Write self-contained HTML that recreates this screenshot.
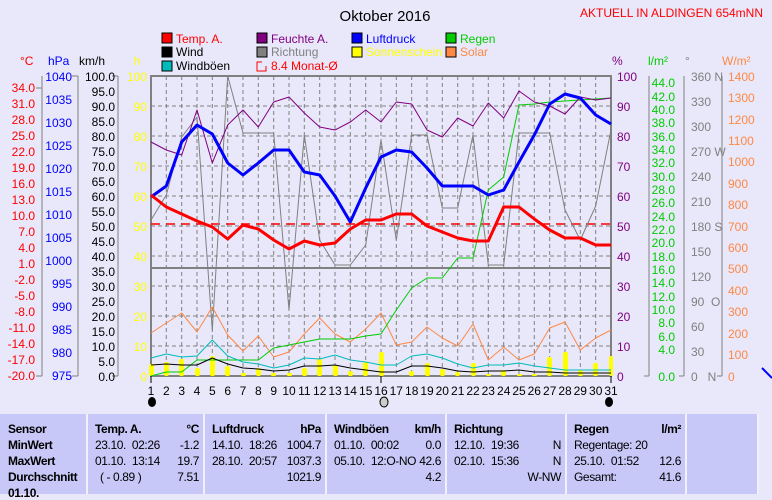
<!DOCTYPE html>
<html><head><meta charset="utf-8"><style>
body{margin:0;background:#e8e8fa;width:772px;height:490px;overflow:hidden;font-family:"Liberation Sans",sans-serif}
svg{position:absolute;left:0;top:0}
.t{position:absolute;top:414px;height:80px;background:#c8c8f8;font-size:12px;letter-spacing:-0.4px;border-right:2px solid #f0f0ff}
.t div{position:absolute;white-space:nowrap}
.b{font-weight:bold}
</style></head><body>
<svg width="772" height="414" font-family="Liberation Sans, sans-serif" font-size="12">
<text x="385" y="21" font-size="15" text-anchor="middle">Oktober 2016</text>
<text x="763" y="17" font-size="12" fill="#f00" text-anchor="end">AKTUELL IN ALDINGEN 654mNN</text>
<g font-size="12">
<rect x="162" y="33" width="10" height="10" fill="#f00" stroke="#000"/><text x="176" y="43" fill="#f00">Temp. A.</text>
<rect x="162" y="47" width="10" height="10" fill="#000" stroke="#000"/><text x="176" y="56">Wind</text>
<rect x="162" y="61" width="10" height="10" fill="#0bb" stroke="#000"/><text x="176" y="70">Windböen</text>
<rect x="257" y="33" width="10" height="10" fill="#800080" stroke="#000"/><text x="271" y="43" fill="#800080">Feuchte A.</text>
<rect x="257" y="47" width="10" height="10" fill="#808080" stroke="#000"/><text x="271" y="56" fill="#808080">Richtung</text>
<path d="M262 62h-5v9h9v-5" fill="none" stroke="#f00"/><text x="271" y="70" fill="#f00">8.4 Monat-Ø</text>
<rect x="352" y="33" width="10" height="10" fill="#00f" stroke="#000"/><text x="366" y="43" fill="#00f">Luftdruck</text>
<rect x="352" y="47" width="10" height="10" fill="#ff0" stroke="#000"/><text x="366" y="56" fill="#ff0">Sonnenschein</text>
<rect x="446" y="33" width="10" height="10" fill="#0c0" stroke="#000"/><text x="460" y="43" fill="#0c0">Regen</text>
<rect x="446" y="47" width="10" height="10" fill="#f84" stroke="#000"/><text x="460" y="56" fill="#f84">Solar</text>
</g>
<text x="20" y="65" fill="#f00">°C</text><text x="48" y="65" fill="#00f">hPa</text><text x="79" y="65">km/h</text><text x="134" y="65" fill="#ff0">h</text>
<text x="612" y="65" fill="#800080">%</text><text x="648" y="65" fill="#0c0">l/m²</text><text x="685" y="65" fill="#808080">°</text><text x="722" y="65" fill="#f84">W/m²</text>
<g stroke="#808080" stroke-dasharray="4,3" stroke-width="1">
<path d="M151 106H611M151 136H611M151 166H611M151 196H611M151 226H611M151 256H611M151 286H611M151 316H611M151 346H611"/>
<path d="M166.3 76V376M181.7 76V376M197 76V376M212.3 76V376M227.7 76V376M243 76V376M258.3 76V376M273.7 76V376M289 76V376M304.3 76V376M319.7 76V376M335 76V376M350.3 76V376M365.7 76V376M381 76V376M396.3 76V376M411.7 76V376M427 76V376M442.3 76V376M457.7 76V376M473 76V376M488.3 76V376M503.7 76V376M519 76V376M534.3 76V376M549.7 76V376M565 76V376M580.3 76V376M595.7 76V376"/>
</g>
<rect x="151" y="76" width="460" height="300" fill="none" stroke="#808080" stroke-width="2"/>
<line x1="151" y1="268" x2="611" y2="268" stroke="#808080" stroke-width="2"/>
<g stroke="#808080"><path d="M42 76V376M78 76V376M118 76V376M36 88h6M36 376h6M72 76h6M72 376h6M112 76h6M112 376h6"/></g>
<g fill="#f00" text-anchor="end">
<text x="35" y="92">34.0</text><text x="35" y="108">31.0</text><text x="35" y="124">28.0</text><text x="35" y="140">25.0</text><text x="35" y="156">22.0</text><text x="35" y="172">19.0</text><text x="35" y="188">16.0</text><text x="35" y="204">13.0</text><text x="35" y="220">10.0</text><text x="35" y="236">7.0</text><text x="35" y="252">4.0</text><text x="35" y="268">1.0</text><text x="35" y="284">-2.0</text><text x="35" y="300">-5.0</text><text x="35" y="316">-8.0</text><text x="35" y="332">-11.0</text><text x="35" y="348">-14.0</text><text x="35" y="364">-17.0</text><text x="35" y="380">-20.0</text>
</g>
<g fill="#00f" text-anchor="end">
<text x="72" y="81">1040</text><text x="72" y="104">1035</text><text x="72" y="127">1030</text><text x="72" y="150">1025</text><text x="72" y="173">1020</text><text x="72" y="196">1015</text><text x="72" y="219">1010</text><text x="72" y="242">1005</text><text x="72" y="265">1000</text><text x="72" y="288">995</text><text x="72" y="311">990</text><text x="72" y="334">985</text><text x="72" y="357">980</text><text x="72" y="380">975</text>
</g>
<g text-anchor="end">
<text x="115" y="81">100.0</text><text x="115" y="96">95.0</text><text x="115" y="111">90.0</text><text x="115" y="126">85.0</text><text x="115" y="141">80.0</text><text x="115" y="156">75.0</text><text x="115" y="171">70.0</text><text x="115" y="186">65.0</text><text x="115" y="201">60.0</text><text x="115" y="216">55.0</text><text x="115" y="231">50.0</text><text x="115" y="246">45.0</text><text x="115" y="261">40.0</text><text x="115" y="276">35.0</text><text x="115" y="291">30.0</text><text x="115" y="306">25.0</text><text x="115" y="321">20.0</text><text x="115" y="336">15.0</text><text x="115" y="351">10.0</text><text x="115" y="366">5.0</text><text x="115" y="381">0.0</text>
</g>
<g fill="#ff0" text-anchor="end">
<text x="147" y="81">100</text><text x="147" y="111">90</text><text x="147" y="141">80</text><text x="147" y="171">70</text><text x="147" y="201">60</text><text x="147" y="231">50</text><text x="147" y="261">40</text><text x="147" y="291">30</text><text x="147" y="321">20</text><text x="147" y="351">10</text><text x="147" y="381">0</text>
</g>
<g fill="#800080">
<text x="617" y="81">100</text><text x="617" y="111">90</text><text x="617" y="141">80</text><text x="617" y="171">70</text><text x="617" y="201">60</text><text x="617" y="231">50</text><text x="617" y="261">40</text><text x="617" y="291">30</text><text x="617" y="321">20</text><text x="617" y="351">10</text><text x="617" y="381">0</text>
</g>
<g stroke="#808080"><path d="M649 76V376M684 76V376M722 76V376M649 376h-5M684 376h-5M722 376h-5"/></g>
<g fill="#0c0" text-anchor="end">
<text x="675" y="87">44.0</text><text x="675" y="101">42.0</text><text x="675" y="114">40.0</text><text x="675" y="127">38.0</text><text x="675" y="141">36.0</text><text x="675" y="154">34.0</text><text x="675" y="167">32.0</text><text x="675" y="181">30.0</text><text x="675" y="194">28.0</text><text x="675" y="207">26.0</text><text x="675" y="221">24.0</text><text x="675" y="234">22.0</text><text x="675" y="247">20.0</text><text x="675" y="261">18.0</text><text x="675" y="274">16.0</text><text x="675" y="287">14.0</text><text x="675" y="301">12.0</text><text x="675" y="314">10.0</text><text x="675" y="327">8.0</text><text x="675" y="341">6.0</text><text x="675" y="354">4.0</text><text x="675" y="381">0.0</text>
</g>
<g fill="#808080">
<text x="691" y="81">360 N</text><text x="691" y="106">330</text><text x="691" y="131">300</text><text x="691" y="156">270 W</text><text x="691" y="181">240</text><text x="691" y="206">210</text><text x="691" y="231">180 S</text><text x="691" y="256">150</text><text x="691" y="281">120</text><text x="691" y="306">90&#160;&#160;O</text><text x="691" y="331">60</text><text x="691" y="356">30</text><text x="691" y="381">0&#160;&#160;&#160;N</text>
</g>
<g fill="#f84">
<text x="728" y="81">1400</text><text x="728" y="102">1300</text><text x="728" y="124">1200</text><text x="728" y="145">1100</text><text x="728" y="166">1000</text><text x="728" y="188">900</text><text x="728" y="209">800</text><text x="728" y="231">700</text><text x="728" y="252">600</text><text x="728" y="273">500</text><text x="728" y="295">400</text><text x="728" y="316">300</text><text x="728" y="338">200</text><text x="728" y="359">100</text><text x="728" y="381">0</text>
</g>
<g fill="#ff0">
<rect x="149" y="364" width="5" height="12" rx="2"/><rect x="164" y="362" width="5" height="14" rx="2"/><rect x="179" y="359" width="5" height="17" rx="2"/><rect x="195" y="368" width="5" height="8" rx="2"/><rect x="210" y="356" width="5" height="20" rx="2"/><rect x="225" y="366" width="5" height="10" rx="2"/><rect x="241" y="373" width="5" height="3" rx="1"/><rect x="256" y="368" width="5" height="8" rx="2"/><rect x="271" y="373" width="5" height="3" rx="1"/><rect x="287" y="373" width="5" height="3" rx="1"/><rect x="302" y="368" width="5" height="8" rx="2"/><rect x="317" y="359" width="5" height="17" rx="2"/><rect x="333" y="365" width="5" height="11" rx="2"/><rect x="348" y="371" width="5" height="5" rx="2"/><rect x="363" y="362" width="5" height="14" rx="2"/><rect x="379" y="352" width="5" height="24" rx="2"/><rect x="409" y="371" width="5" height="5" rx="2"/><rect x="425" y="363" width="5" height="13" rx="2"/><rect x="440" y="369" width="5" height="7" rx="2"/><rect x="455" y="372" width="5" height="4" rx="2"/><rect x="471" y="363" width="5" height="13" rx="2"/><rect x="486" y="374" width="5" height="2" rx="1"/><rect x="501" y="370" width="5" height="6" rx="2"/><rect x="517" y="374" width="5" height="2" rx="1"/><rect x="532" y="374" width="5" height="2" rx="1"/><rect x="547" y="357" width="5" height="19" rx="2"/><rect x="563" y="352" width="5" height="24" rx="2"/><rect x="578" y="370" width="5" height="6" rx="2"/><rect x="593" y="363" width="5" height="13" rx="2"/><rect x="609" y="356" width="4" height="20" rx="2"/>
</g>
<line x1="151" y1="224" x2="611" y2="224" stroke="#f00" stroke-width="1.5" stroke-dasharray="9,6"/>
<g fill="none" stroke-linejoin="round">
<polyline stroke="#808080" stroke-width="1" points="151,220 166.3,195 181.7,137 197,117 212.3,330 227.7,76 243,133 258.3,133 273.7,133 289,310 304.3,135 319.7,240 335,265 350.3,265 365.7,245 381,140 396.3,240 411.7,135 427,135 442.3,208 457.7,208 473,135 488.3,265 503.7,265 519,133 534.3,133 549.7,133 565,210 580.3,240 595.7,206 611,130"/>
<polyline stroke="#f84" stroke-width="1" points="151,333 166.3,323 181.7,313 197,332 212.3,307 227.7,335 243,351 258.3,336 273.7,357 289,352 304.3,334 319.7,318 335,334 350.3,342 365.7,329 381,313 396.3,345 411.7,342 427,327 442.3,338 457.7,346 473,324 488.3,360 503.7,347 519,360 534.3,354 549.7,328 565,322 580.3,350 595.7,338 611,330"/>
<polyline stroke="#0c0" stroke-width="1" points="151,376 166.3,372 181.7,372 197,360 212.3,360 227.7,360 243,360 258.3,360 273.7,348 289,345 304.3,342 319.7,339 335,339 350.3,339 365.7,336 381,334 396.3,310 411.7,288 427,278 442.3,278 457.7,258 473,258 488.3,190 503.7,177 519,105 534.3,104 549.7,102 565,101 580.3,100 595.7,99 611,98"/>
<polyline stroke="#0bb" stroke-width="1" points="151,358 166.3,354 181.7,357 197,356 212.3,340 227.7,356 243,362 258.3,364 273.7,368 289,365 304.3,358 319.7,359 335,355 350.3,360 365.7,362 381,365 396.3,365 411.7,356 427,354 442.3,358 457.7,364 473,368 488.3,365 503.7,365 519,363 534.3,366 549.7,368 565,370 580.3,370 595.7,370 611,370"/>
<polyline stroke="#000" stroke-width="1" points="151,365 166.3,364 181.7,365 197,365 212.3,358 227.7,364 243,368 258.3,369 273.7,371 289,370 304.3,366 319.7,366 335,365 350.3,368 365.7,370 381,372 396.3,372 411.7,366 427,366 442.3,368 457.7,371 473,372 488.3,371 503.7,371 519,370 534.3,372 549.7,372 565,373 580.3,373 595.7,373 611,373"/>
<polyline stroke="#800080" stroke-width="1" points="151,142 166.3,150 181.7,155 197,110 212.3,163 227.7,125 243,110 258.3,127 273.7,102 289,97 304.3,113 319.7,127 335,130 350.3,122 365.7,110 381,122 396.3,102 411.7,104 427,130 442.3,137 457.7,118 473,126 488.3,103 503.7,118 519,91 534.3,102 549.7,106 565,114 580.3,97 595.7,100 611,98"/>
<polyline stroke="#00f" stroke-width="3" points="151,197 166.3,186 181.7,142 197,125 212.3,134 227.7,163 243,175 258.3,163 273.7,150 289,150 304.3,172 319.7,175 335,196 350.3,222 365.7,188 381,157 396.3,150 411.7,152 427,168 442.3,186 457.7,186 473,186 488.3,195 503.7,190 519,162 534.3,135 549.7,104 565,94 580.3,98 595.7,115 611,124"/>
<polyline stroke="#f00" stroke-width="3" points="151,195 166.3,207 181.7,214 197,221 212.3,227 227.7,239 243,225 258.3,229 273.7,240 289,249 304.3,241 319.7,245 335,243 350.3,229 365.7,220 381,220 396.3,214 411.7,214 427,226 442.3,232 457.7,238 473,241 488.3,241 503.7,207 519,207 534.3,219 549.7,230 565,238 580.3,238 595.7,245 611,245"/>
</g>
<path d="M151 376v7M381 376v7M611 376v7" stroke="#000"/>
<g font-size="12" text-anchor="middle">
<text x="151" y="395">1</text><text x="166.3" y="395">2</text><text x="181.7" y="395">3</text><text x="197" y="395">4</text><text x="212.3" y="395">5</text><text x="227.7" y="395">6</text><text x="243" y="395">7</text><text x="258.3" y="395">8</text><text x="273.7" y="395">9</text><text x="289" y="395">10</text><text x="304.3" y="395">11</text><text x="319.7" y="395">12</text><text x="335" y="395">13</text><text x="350.3" y="395">14</text><text x="365.7" y="395">15</text><text x="381" y="395">16</text><text x="396.3" y="395">17</text><text x="411.7" y="395">18</text><text x="427" y="395">19</text><text x="442.3" y="395">20</text><text x="457.7" y="395">21</text><text x="473" y="395">22</text><text x="488.3" y="395">23</text><text x="503.7" y="395">24</text><text x="519" y="395">25</text><text x="534.3" y="395">26</text><text x="549.7" y="395">27</text><text x="565" y="395">28</text><text x="580.3" y="395">29</text><text x="595.7" y="395">30</text><text x="611" y="395">31</text>
</g>
<ellipse cx="152" cy="402" rx="4" ry="5" fill="#000"/><ellipse cx="384" cy="402" rx="4" ry="5" fill="#ccc" stroke="#000"/><ellipse cx="609" cy="402" rx="4" ry="5" fill="#000"/>
<path d="M762 368l10 10" stroke="#00f" stroke-width="2"/>
</svg>
<div class="t" style="left:0;width:86px"><div class="b" style="left:8px;top:8px">Sensor</div><div class="b" style="left:8px;top:24px">MinWert</div><div class="b" style="left:8px;top:40px">MaxWert</div><div class="b" style="left:8px;top:56px">Durchschnitt</div><div class="b" style="left:8px;top:72px">01.10.</div></div>
<div class="t" style="left:88px;width:115px"><div class="b" style="left:7px;top:8px">Temp. A.</div><div class="b" style="right:4px;top:8px">°C</div><div style="left:7px;top:24px">23.10.&#160;&#160;02:26</div><div style="right:4px;top:24px">-1.2</div><div style="left:7px;top:40px">01.10.&#160;&#160;13:14</div><div style="right:4px;top:40px">19.7</div><div style="left:12px;top:56px">( - 0.89 )</div><div style="right:4px;top:56px">7.51</div></div>
<div class="t" style="left:205px;width:120px"><div class="b" style="left:7px;top:8px">Luftdruck</div><div class="b" style="right:4px;top:8px">hPa</div><div style="left:7px;top:24px">14.10.&#160;&#160;18:26</div><div style="right:4px;top:24px">1004.7</div><div style="left:7px;top:40px">28.10.&#160;&#160;20:57</div><div style="right:4px;top:40px">1037.3</div><div style="right:4px;top:56px">1021.9</div></div>
<div class="t" style="left:327px;width:118px"><div class="b" style="left:7px;top:8px">Windböen</div><div class="b" style="right:4px;top:8px">km/h</div><div style="left:7px;top:24px">01.10.&#160;&#160;00:02</div><div style="right:4px;top:24px">0.0</div><div style="left:7px;top:40px">05.10.&#160;&#160;12:O-NO</div><div style="right:4px;top:40px">42.6</div><div style="right:4px;top:56px">4.2</div></div>
<div class="t" style="left:447px;width:118px"><div class="b" style="left:7px;top:8px">Richtung</div><div style="left:7px;top:24px">12.10.&#160;&#160;19:36</div><div style="right:4px;top:24px">N</div><div style="left:7px;top:40px">02.10.&#160;&#160;15:36</div><div style="right:4px;top:40px">N</div><div style="right:4px;top:56px">W-NW</div></div>
<div class="t" style="left:567px;width:118px"><div class="b" style="left:7px;top:8px">Regen</div><div class="b" style="right:4px;top:8px">l/m²</div><div style="left:7px;top:24px">Regentage: 20</div><div style="left:7px;top:40px">25.10.&#160;&#160;01:52</div><div style="right:4px;top:40px">12.6</div><div style="left:7px;top:56px">Gesamt:</div><div style="right:4px;top:56px">41.6</div></div>
<div class="t" style="left:687px;width:70px"></div>
</body></html>
